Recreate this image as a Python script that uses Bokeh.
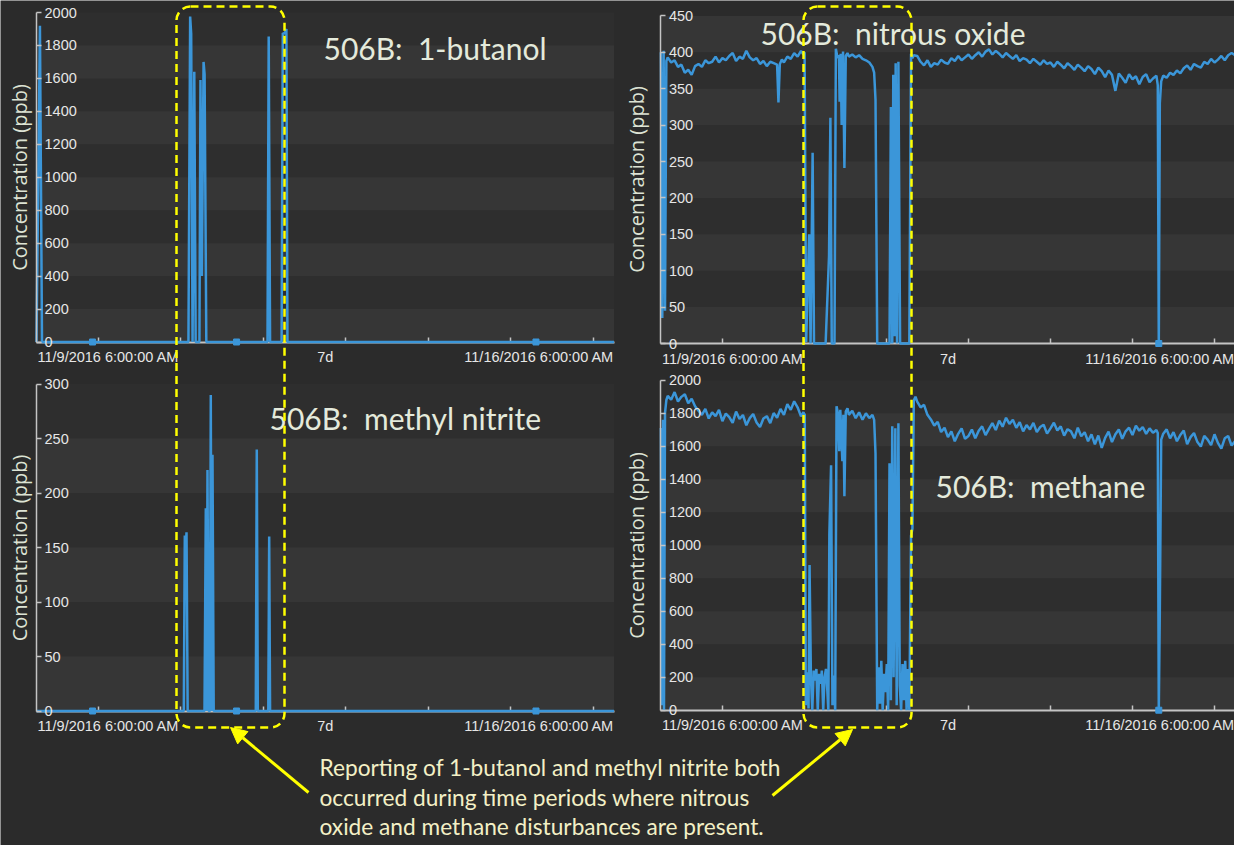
import pandas as pd
from bokeh.plotting import figure
from bokeh.models import (Range1d, LinearAxis, DatetimeAxis, DaysTicker, FixedTicker,
                          SingleIntervalTicker, Label, BoxAnnotation, Arrow, NormalHead)
from bokeh.embed import file_html
from bokeh.resources import INLINE

# ---------------- data (hours after 11/9/2016 06:00, ppb) ----------------
T_START = "2016-11-09 06:00"
T_END = "2016-11-16 06:00"
x_tick_labels = ["11/9/2016 6:00:00 AM", "7d", "11/16/2016 6:00:00 AM"]

butanol_h = [0.0, 1.0, 1.6, 44.2, 44.7, 45.0, 45.4, 45.9, 46.3, 47.4, 47.7, 48.1, 48.6, 48.9,
             49.4, 67.2, 67.55, 67.95, 71.3, 71.65, 72.0, 72.45, 72.7, 73.0, 168.0]
butanol_ppb = [0, 1920, 0, 0, 1975, 1870, 0, 1640, 0, 0, 1590, 400, 1700, 1625,
               0, 0, 1855, 0, 0, 1875, 1870, 1885, 1900, 0, 0]
butanol_isolated_h = [16.3, 58.2, 145.3]
butanol_isolated_ppb = [0, 0, 0]

nitrite_h = [0.0, 42.85, 43.14, 43.4, 43.64, 43.98, 48.87, 49.25, 49.54, 49.74, 50.09, 50.44,
             50.7, 50.96, 51.2, 51.55, 63.79, 64.08, 64.38, 67.43, 67.69, 67.95, 168.0]
nitrite_ppb = [0, 0, 161, 148, 164, 0, 0, 186, 0, 221, 0, 0,
               290, 0, 235, 0, 0, 240, 0, 0, 160, 0, 0]
nitrite_isolated_h = [16.3, 58.2, 145.3]
nitrite_isolated_ppb = [0, 0, 0]

n2o_pairs = [
    (0.0, 400), (0.4, 35), (0.8, 402), (1.2, 45), (1.6, 388),
    (2, 393), (3, 386), (4, 389), (5, 380), (6, 383), (7, 372), (8, 376), (9, 369), (10, 381), (11, 384),
    (12, 380), (13, 389), (14, 385), (15, 387), (16, 394), (17, 386), (18, 392), (19, 389), (20, 395),
    (21, 399), (22, 388), (23, 394), (24, 391), (25, 402), (26, 393), (27, 389), (28, 392), (29, 384),
    (30, 388), (31, 381), (32, 387), (33, 385), (34, 383), (34.4, 331), (34.8, 384), (35.4, 390), (36, 386),
    (37, 394), (38, 391), (39, 399), (40, 394), (41, 402), (41.7, 397),
    (42.05, 400), (42.5, 2), (43.4, 150), (43.8, 0), (44.4, 262), (44.8, 0), (48.2, 0), (49.2, 120), (49.6, 310),
    (50.0, 0), (50.8, 0), (51.2, 405), (51.7, 392), (52.1, 396), (52.3, 332), (52.6, 398), (52.9, 300),
    (53.3, 401), (53.7, 241), (54.1, 395), (54.6, 399), (55, 394), (56, 397), (57, 393), (58, 396), (59, 391),
    (60, 389), (61, 386), (61.9, 380), (62.4, 372), (62.8, 335), (63.3, 0), (66.9, 0), (67.3, 325), (67.7, 0),
    (68.0, 369), (68.4, 10), (68.7, 385), (69.1, 0), (69.5, 387), (70.0, 0), (72.7, 0), (73.2, 398),
    (73.6, 392), (74.0, 396),
    (75, 395), (76, 387), (77, 382), (78, 389), (79, 380), (80, 385), (81, 383), (82, 390), (83, 386),
    (84, 384), (85, 392), (86, 388), (87, 395), (88, 389), (89, 393), (90, 397), (91, 391), (92, 396),
    (93, 400), (94, 394), (95, 401), (96, 404), (97, 397), (98, 402), (99, 398), (100, 393), (101, 399),
    (102, 395), (103, 391), (104, 396), (105, 388), (106, 392), (107, 390), (108, 385), (109, 391),
    (110, 387), (111, 383), (112, 389), (113, 384), (114, 386), (115, 380), (116, 387), (117, 383),
    (118, 378), (119, 385), (120, 381), (121, 376), (122, 383), (123, 379), (124, 374), (125, 381),
    (126, 377), (127, 370), (128, 379), (129, 374), (130, 366), (131, 375), (132, 369), (133, 347),
    (134, 371), (135, 365), (136, 358), (137, 370), (138, 363), (139, 367), (140, 356), (141, 366),
    (142, 370), (143, 359), (144, 364), (145, 368), (145.4, 355), (145.7, 0), (146.0, 330), (146.4, 360),
    (147, 368), (148, 365), (149, 372), (150, 369), (151, 375), (152, 371), (153, 378), (154, 382),
    (155, 376), (156, 384), (157, 381), (158, 379), (159, 387), (160, 384), (161, 391), (162, 386),
    (163, 390), (164, 395), (165, 389), (166, 396), (167, 399), (168, 396)]
n2o_isolated_h = [145.7]
n2o_isolated_ppb = [0]

ch4_pairs = [
    (0.0, 1710), (0.3, 30), (0.6, 1760), (0.9, 0), (1.2, 1800), (1.6, 1880),
    (2, 1905), (3, 1882), (4, 1928), (5, 1871), (6, 1899), (7, 1915), (8, 1860), (9, 1887), (10, 1842),
    (11, 1815), (12, 1790), (13, 1826), (14, 1768), (15, 1805), (16, 1782), (17, 1820), (18, 1752),
    (19, 1798), (20, 1776), (21, 1741), (22, 1810), (23, 1765), (24, 1789), (25, 1727), (26, 1770),
    (27, 1795), (28, 1744), (29, 1716), (30, 1768), (31, 1782), (32, 1740), (33, 1801), (34, 1772),
    (35, 1826), (36, 1790), (37, 1855), (38, 1820), (39, 1872), (40, 1836), (41, 1781), (41.7, 1806),
    (42.1, 1790), (42.4, 30), (42.8, 230), (43.2, 10), (43.5, 880), (43.9, 200), (44.3, 0), (44.7, 240),
    (45.1, 180), (45.5, 250), (45.9, 0), (46.3, 220), (46.7, 160), (47.1, 240), (47.5, 0), (47.9, 200),
    (48.3, 250), (48.7, 120), (49.0, 0), (49.3, 1070), (49.8, 1485), (50.2, 30), (50.6, 210), (51.0, 0),
    (51.4, 1842), (51.8, 1800), (52.2, 1570), (52.5, 1820), (53.1, 1509), (53.4, 1790), (53.7, 1297),
    (54.1, 1810), (54.6, 1830), (55, 1790), (56, 1815), (57, 1770), (58, 1805), (59, 1760), (60, 1800),
    (61, 1770), (61.9, 1790), (62.4, 1760), (62.8, 1557), (63.3, 0), (63.7, 260), (64.1, 40), (64.5, 300),
    (64.9, 0), (65.3, 220), (65.7, 110), (66.1, 280), (66.5, 0), (66.9, 1497), (67.3, 60), (67.7, 1721),
    (68.1, 200), (68.6, 1709), (69.0, 30), (69.5, 1739), (69.9, 150), (70.3, 0), (70.7, 280), (71.1, 60),
    (71.5, 300), (71.9, 0), (72.3, 250), (72.7, 0), (73.2, 1057), (73.6, 1100), (74.0, 1877), (74.5, 1900),
    (75, 1870), (76, 1835), (77, 1851), (78, 1790), (79, 1762), (80, 1725), (81, 1748), (82, 1686),
    (83, 1712), (84, 1655), (85, 1690), (86, 1630), (87, 1675), (88, 1708), (89, 1645), (90, 1662),
    (91, 1701), (92, 1648), (93, 1694), (94, 1720), (95, 1667), (96, 1705), (97, 1740), (98, 1698),
    (99, 1755), (100, 1718), (101, 1772), (102, 1735), (103, 1760), (104, 1712), (105, 1745), (106, 1690),
    (107, 1728), (108, 1702), (109, 1741), (110, 1685), (111, 1716), (112, 1730), (113, 1676), (114, 1708),
    (115, 1742), (116, 1695), (117, 1720), (118, 1664), (119, 1703), (120, 1690), (121, 1648), (122, 1712),
    (123, 1660), (124, 1685), (125, 1630), (126, 1672), (127, 1612), (128, 1665), (129, 1590), (130, 1650),
    (131, 1688), (132, 1625), (133, 1672), (134, 1701), (135, 1645), (136, 1690), (137, 1712), (138, 1668),
    (139, 1725), (140, 1694), (141, 1716), (142, 1675), (143, 1708), (144, 1681), (145, 1698), (145.4, 1680),
    (145.7, 0), (146.0, 600), (146.4, 1640), (147, 1676), (148, 1702), (149, 1648), (150, 1685), (151, 1630),
    (152, 1668), (153, 1695), (154, 1612), (155, 1655), (156, 1680), (157, 1625), (158, 1598), (159, 1662),
    (160, 1640), (161, 1606), (162, 1672), (163, 1620), (164, 1585), (165, 1648), (166, 1662), (167, 1604),
    (168, 1630)]
ch4_isolated_h = [145.7]
ch4_isolated_ppb = [0]

titles = ["506B:\u00a0 1-butanol", "506B:\u00a0 nitrous oxide",
          "506B:\u00a0 methyl nitrite", "506B:\u00a0 methane"]
y_title = "Concentration (ppb)"
note_lines = ["Reporting of 1-butanol and methyl nitrite both",
              "occurred during time periods where nitrous",
              "oxide and methane disturbances are present."]

# ---------------- style / layout ----------------
W, H = 1234, 845
SLIDE = "#2b2b2b"
BASE = "#2e2e2e"
BAND = "#363636"
BLUE = "#3b96d9"
AXC = "#c4c4c4"
TICKTXT = "#e6e6e6"
TITLEC = "#e4eadb"
AXTITLE = "#dde3d4"
YEL = "#ffff00"
NOTEC = "#f3f0c6"

n2o_h, n2o_ppb = map(list, zip(*n2o_pairs))
ch4_h, ch4_ppb = map(list, zip(*ch4_pairs))

panels = [
    dict(h=butanol_h, v=butanol_ppb, ih=butanol_isolated_h, iv=butanol_isolated_ppb,
         px=(36, 613.5, 341.5, 12.0), vmax=2000, step=200, title=titles[0], txy=(323, 47), tstand=4),
    dict(h=n2o_h, v=n2o_ppb, ih=n2o_isolated_h, iv=n2o_isolated_ppb,
         px=(660.4, 1234.5, 343.0, 15.4), vmax=450, step=50, title=titles[1], txy=(760, 32), tstand=11),
    dict(h=nitrite_h, v=nitrite_ppb, ih=nitrite_isolated_h, iv=nitrite_isolated_ppb,
         px=(36, 613.5, 710.5, 383.5), vmax=300, step=50, title=titles[2], txy=(269, 417), tstand=4),
    dict(h=ch4_h, v=ch4_ppb, ih=ch4_isolated_h, iv=ch4_isolated_ppb,
         px=(660.4, 1234.5, 709.7, 379.7), vmax=2000, step=200, title=titles[3], txy=(935, 485), tstand=11),
]

t0_ts, t1_ts = pd.Timestamp(T_START), pd.Timestamp(T_END)
t0 = t0_ts.value / 1e6
t1 = t1_ts.value / 1e6

p = figure(width=W, height=H, x_range=Range1d(0, W), y_range=Range1d(H, 0),
           x_axis_type=None, y_axis_type=None, min_border=0,
           toolbar_location=None, output_backend="svg")
p.background_fill_color = SLIDE
p.border_fill_color = SLIDE
p.outline_line_color = None

xr_map, yr_map = {}, {}
for i, pn in enumerate(panels):
    xn, yn = f"x{i}", f"y{i}"
    x0, x1, yb, yt = pn["px"]
    mpp = (t1 - t0) / (x1 - x0)
    xr_map[xn] = Range1d(t0 - x0 * mpp, t0 + (W - x0) * mpp)
    upp = pn["vmax"] / (yb - yt)
    yr_map[yn] = Range1d(-(H - yb) * upp, yb * upp)
p.extra_x_ranges = xr_map
p.extra_y_ranges = yr_map

for i, pn in enumerate(panels):
    xn, yn = f"x{i}", f"y{i}"
    vmax, step = pn["vmax"], pn["step"]
    kw = dict(x_range_name=xn, y_range_name=yn)

    # plot background and alternating bands
    p.quad(left=[t0], right=[t1], bottom=[0], top=[vmax], fill_color=BASE, line_color=None,
           level="image", **kw)
    lows = list(range(0, vmax, 2 * step))
    p.quad(left=[t0] * len(lows), right=[t1] * len(lows), bottom=lows, top=[v + step for v in lows],
           fill_color=BAND, line_color=None, level="image", **kw)

    times = (t0_ts + pd.to_timedelta(pn["h"], unit="h")).to_numpy()
    p.line(x=times, y=pn["v"], line_color=BLUE, line_width=2.5, **kw)
    itimes = (t0_ts + pd.to_timedelta(pn["ih"], unit="h")).to_numpy()
    p.scatter(x=itimes, y=pn["iv"], marker="square", size=6, color=BLUE, **kw)

    xa = DatetimeAxis(fixed_location=0, bounds=(t0, t1),
                      ticker=DaysTicker(days=list(range(1, 32)), num_minor_ticks=0),
                      major_label_text_color=None, axis_line_color=AXC, axis_line_width=2,
                      major_tick_line_color=AXC, major_tick_line_width=1.5,
                      major_tick_in=5, major_tick_out=0, minor_tick_in=0, minor_tick_out=0,
                      level="underlay", **kw)
    p.add_layout(xa, "below")

    ya = LinearAxis(fixed_location=t0, bounds=(0, vmax),
                    ticker=SingleIntervalTicker(interval=step, num_minor_ticks=0),
                    axis_line_color=AXC, axis_line_width=1.5,
                    major_tick_line_color=AXC, major_tick_line_width=1.5,
                    major_tick_out=5, major_tick_in=0, minor_tick_in=0, minor_tick_out=0,
                    major_label_standoff=3, major_label_text_font="Liberation Sans",
                    major_label_text_font_size="14.5px", major_label_text_color=TICKTXT, **kw)
    p.add_layout(ya, "right")

    yl = LinearAxis(fixed_location=t0, bounds=(0, vmax), ticker=FixedTicker(ticks=[]),
                    axis_line_color=None, major_tick_out=0, major_tick_in=0,
                    minor_tick_in=0, minor_tick_out=0,
                    axis_label=y_title, axis_label_standoff=pn["tstand"],
                    axis_label_text_font="Open Sans", axis_label_text_font_size="20px",
                    axis_label_text_font_style="normal", axis_label_text_color=AXTITLE, **kw)
    p.add_layout(yl, "left")

    for txt, xv, al, dx in zip(x_tick_labels, [t0, (t0 + t1) / 2, t1],
                               ["left", "center", "right"], [1, 0, 0]):
        p.add_layout(Label(x=xv, y=0, text=txt, text_align=al, text_baseline="middle",
                           x_offset=dx, y_offset=-15, text_font="Liberation Sans",
                           text_font_size="14.5px", text_color=TICKTXT, **kw))

    tx, ty = pn["txy"]
    p.add_layout(Label(x=tx, y=ty, text=pn["title"], text_align="left", text_baseline="middle",
                       text_font="Lato", text_font_size="30px", text_color=TITLEC))

# highlighted time windows (dashed rounded boxes)
for (l, r) in [(176, 284), (803, 911)]:
    p.add_layout(BoxAnnotation(left=l, right=r, top=6, bottom=727, fill_color=None,
                               line_color=YEL, line_alpha=1.0, line_width=2.5, line_dash="8 5",
                               border_radius=14))

# arrows
for (xs, ys, xe, ye) in [(308, 792, 230, 727), (772, 795, 852, 729)]:
    p.add_layout(Arrow(x_start=xs, y_start=ys, x_end=xe, y_end=ye, line_color=YEL, line_width=3,
                       end=NormalHead(size=16, fill_color=YEL, line_color=YEL)))

# note text
for k, line in enumerate(note_lines):
    p.add_layout(Label(x=319, y=767 + k * 29.5, text=line, text_align="left", text_baseline="middle",
                       text_font="Lato", text_font_size="22.7px", text_color=NOTEC))

open("out.html", "w").write(file_html(p, INLINE))
